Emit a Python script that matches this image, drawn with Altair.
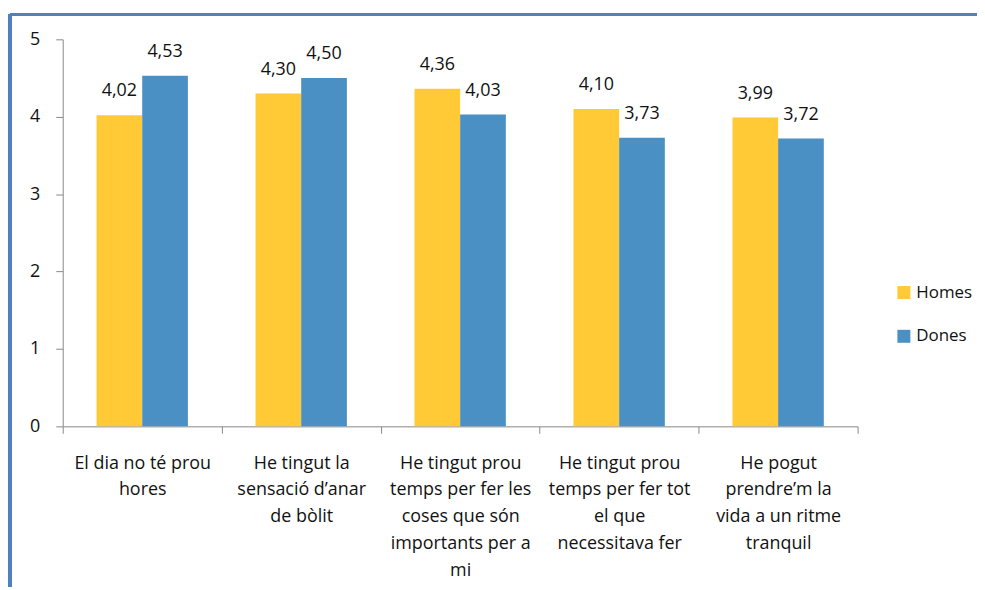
import altair as alt
import pandas as pd

categories = [
    "El dia no té prou|hores",
    "He tingut la|sensació d’anar|de bòlit",
    "He tingut prou|temps per fer les|coses que són|importants per a|mi",
    "He tingut prou|temps per fer tot|el que|necessitava fer",
    "He pogut|prendre’m la|vida a un ritme|tranquil",
]
series = ["Homes", "Dones"]
homes = [4.02, 4.30, 4.36, 4.10, 3.99]
dones = [4.53, 4.50, 4.03, 3.73, 3.72]
colors = ["#FFCA36", "#4A90C4"]

rows = []
for i, c in enumerate(categories):
    rows.append({"cat": c, "serie": "Homes", "value": homes[i]})
    rows.append({"cat": c, "serie": "Dones", "value": dones[i]})
df = pd.DataFrame(rows)

FONT = "Open Sans"

x = alt.X("cat:N", sort=categories, title=None,
          scale=alt.Scale(paddingInner=0, paddingOuter=0),
          axis=alt.Axis(labelExpr="split(datum.label, '|')", labelAngle=0,
                        tickBand="extent", tickSize=7, labelPadding=21,
                        domainColor="#888888", tickColor="#888888",
                        labelFontSize=18, labelColor="#111111", labelFont=FONT,
                        labelLineHeight=27, labelBaseline="top", labelLimit=300))
xo = alt.XOffset("serie:N", sort=series,
                 scale=alt.Scale(paddingInner=0, paddingOuter=0.74))
y = alt.Y("value:Q", title=None,
          scale=alt.Scale(domain=[0, 5]),
          axis=alt.Axis(values=[0, 1, 2, 3, 4, 5], format="d", grid=False, tickSize=7,
                        labelPadding=16, domainColor="#888888", tickColor="#888888",
                        labelFontSize=18, labelColor="#111111", labelFont=FONT))

base = alt.Chart(df).encode(x=x, xOffset=xo, y=y)

bars = base.mark_bar().encode(
    color=alt.Color("serie:N", sort=series,
                    scale=alt.Scale(domain=series, range=colors),
                    legend=alt.Legend(title=None, orient="none", legendX=837, legendY=246,
                                      symbolType="square", symbolSize=170,
                                      symbolStrokeWidth=0, labelFontSize=17,
                                      labelFont=FONT, labelColor="#111111",
                                      rowPadding=26, labelOffset=4)),
)

labels = base.transform_calculate(
    lab="replace(format(datum.value, '.2f'), '.', ',')"
).mark_text(baseline="bottom", dy=-15, fontSize=18, font=FONT, color="#111111").encode(
    text="lab:N"
)

frame_top = alt.Chart(df).mark_rule(color="#4F81BD", strokeWidth=3).encode(
    x=alt.value(-53), x2=alt.value(940), y=alt.value(-25)
)
frame_left = alt.Chart(df).mark_rule(color="#4F81BD", strokeWidth=3).encode(
    x=alt.value(-53), y=alt.value(-25), y2=alt.value(560)
)

chart = alt.layer(bars, labels, frame_top, frame_left).properties(
    width=799, height=389,
    background="white",
    autosize=alt.AutoSizeParams(type="none"),
    padding={"left": 55, "top": 30, "right": 120, "bottom": 160},
).configure_view(stroke=None)

chart.save("out.html", embed_options={"renderer": "svg", "actions": False})
